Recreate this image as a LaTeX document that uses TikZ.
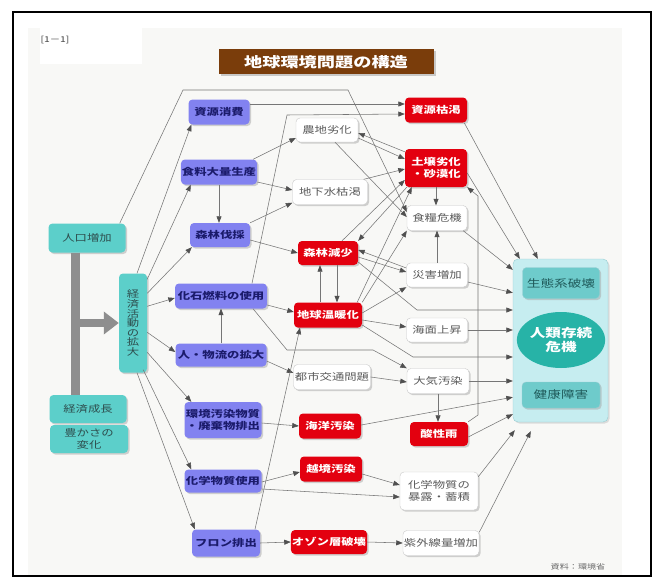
\documentclass[tikz,border=0pt]{standalone}
\usepackage{fontspec}
\newfontfamily\jp[FakeStretch=1.3]{Noto Sans CJK JP}
\usetikzlibrary{arrows.meta, positioning, shapes.geometric, shadows}
\definecolor{actblue}{HTML}{8282F0}
\definecolor{actink}{HTML}{1B1B6B}
\definecolor{hazard}{HTML}{E3000F}
\definecolor{seed}{HTML}{5CCFCA}
\definecolor{seedink}{HTML}{2E4E4E}
\definecolor{effline}{HTML}{C9C9C9}
\definecolor{effink}{HTML}{5A5A5A}
\definecolor{pool}{HTML}{C6EDF0}
\definecolor{poolline}{HTML}{98CDD2}
\definecolor{lagoon}{HTML}{6ECBCB}
\definecolor{lagoonink}{HTML}{1F5A5A}
\definecolor{core}{HTML}{27B3A7}
\definecolor{wire}{HTML}{767676}
\definecolor{tip}{HTML}{505050}
\definecolor{cocoa}{HTML}{7A3D0B}
\definecolor{paper}{HTML}{F8F8F6}
\definecolor{trunkgray}{HTML}{8E8E8E}
\tikzstyle{chart}=[x=1pt, y=-1pt, on grid, >={Triangle[length=6.5pt,width=5pt,color=tip]}]
\tikzstyle{box}=[rounded corners=4pt, minimum width=62pt, minimum height=25pt, inner sep=1pt, align=center,
  font=\jp\fontsize{9.5}{11.5}\selectfont,
  drop shadow={shadow xshift=1.6pt, shadow yshift=-1.6pt, fill=black!35, opacity=.5}]
\tikzstyle{act}=[box, fill=actblue, text=actink, font=\jp\bfseries\fontsize{9.5}{11.5}\selectfont]
\tikzstyle{hit}=[box, fill=hazard, text=white, font=\jp\bfseries\fontsize{9.5}{11.5}\selectfont]
\tikzstyle{effect}=[box, fill=white, draw=effline, text=effink]
\tikzstyle{cause}=[box, fill=seed, text=seedink]
\tikzstyle{flow}=[draw=wire, line width=.55pt, ->]

\begin{document}
\begin{tikzpicture}[chart]
  \useasboundingbox (0,0) rectangle (656,578);
  \fill[paper] (28,28) rectangle (622,575);
  \fill[white] (40,28) rectangle (142,64);
  \draw[line width=1.3pt] (13,12) rectangle (651,576);
  \node[anchor=west, text=black!75, font=\jp\fontsize{8}{9}\selectfont] (tag) at (37,40) {[1－1]};
  \node[fill=cocoa, text=white, minimum width=215pt, minimum height=25pt, inner sep=0pt,
        font=\jp\bfseries\fontsize{14}{16}\selectfont,
        drop shadow={shadow xshift=2pt, shadow yshift=-2pt, fill=black!40, opacity=.5}] (title) at (326,62) {地球環境問題の構造};

  % what drives it
  \node[cause, minimum width=77pt, minimum height=29pt] (pop) at (87,238) {人口増加};
  \node[cause, minimum width=28pt, minimum height=99pt, font=\jp\fontsize{9.5}{9.6}\selectfont] (econ) [below right=85pt and 46pt of pop] {経\\済\\活\\動\\の\\拡\\大};
  \node[cause, minimum width=77pt, minimum height=28pt] (growth) [below right=171pt and 1pt of pop] {経済成長};
  \node[cause, minimum width=78pt, minimum height=28pt] (rich) [below right=30pt and 1pt of growth] {豊かさの\\変化};

  % human activity
  \node[act, minimum width=61pt] (res) at (219,112) {資源消費};
  \node[act, minimum width=75pt] (food) [below=60pt of res] {食料大量生産};
  \node[act, minimum width=60pt, minimum height=24pt] (cut) [below right=63pt and 1pt of food] {森林伐採};
  \node[act, minimum width=92pt] (fossil) [below right=61pt and 1pt of cut] {化石燃料の使用};
  \node[act, minimum width=91pt, minimum height=23pt] (move) [below=59pt of fossil] {人・物流の拡大};
  \node[act, minimum width=77pt, minimum height=36pt] (emit) [below right=65pt and 2pt of move] {環境汚染物質\\・廃棄物排出};
  \node[act, minimum width=77pt, minimum height=23pt] (chem) [below=61pt of emit] {化学物質使用};
  \node[act, minimum width=68pt, minimum height=27pt] (cfc) [below right=62pt and 3pt of chem] {フロン排出};

  % problems
  \node[hit] (deplete) at (436,110) {資源枯渇};
  \node[hit, minimum height=38pt] (soil) [below=58pt of deplete] {土壌劣化\\・砂漠化};
  \node[effect, minimum width=60pt] (crisis) [below right=50pt and 1pt of soil] {食糧危機};
  \node[effect, minimum width=61pt, minimum height=24pt] (disaster) [below=57pt of crisis] {災害増加};
  \node[effect, minimum width=61pt, minimum height=24pt] (sea) [below=55pt of disaster] {海面上昇};
  \node[effect] (air) [below right=51pt and 1pt of sea] {大気汚染};
  \node[hit, minimum width=58pt, minimum height=24pt] (acid) [below right=53pt and 1pt of air] {酸性雨};
  \node[effect, minimum width=78pt, minimum height=38pt] (expo) [below=57pt of acid] {化学物質の\\暴露・蓄積};
  \node[effect, minimum width=75pt] (uv) [below right=52pt and 2pt of expo] {紫外線量増加};

  \node[effect, minimum height=24pt] (farm) at (327,130) {農地劣化};
  \node[effect, minimum width=75pt] (ground) [below right=62pt and 3pt of farm] {地下水枯渇};
  \node[hit, minimum width=60pt, minimum height=24pt] (forest) [below left=61pt and 2pt of ground] {森林減少};
  \node[hit, minimum width=68pt] (warm) [below=62pt of forest] {地球温暖化};
  \node[effect, minimum width=77pt] (traffic) [below right=62pt and 4pt of warm] {都市交通問題};
  \node[hit] (ocean) [below left=49pt and 2pt of traffic] {海洋汚染};
  \node[hit] (cross) [below right=43pt and 1pt of ocean] {越境汚染};
  \node[hit, minimum width=76pt, minimum height=24pt] (ozone) [below left=73pt and 2pt of cross] {オゾン層破壊};

  % outcome
  \node[draw=poolline, fill=pool, rounded corners=5pt, minimum width=95pt, minimum height=163pt,
        drop shadow={shadow xshift=1.6pt, shadow yshift=-1.6pt, fill=black!25, opacity=.5}] (panel) at (560.5,340.5) {};
  \node[ellipse, fill=core, text=white, minimum width=82pt, minimum height=56pt, inner sep=0pt, align=center,
        font=\jp\bfseries\fontsize{12}{14}\selectfont] (human) at (561,340) {人類存続\\危機};
  \node[box, fill=lagoon, draw=poolline, text=lagoonink, minimum width=77pt, minimum height=31pt,
        font=\jp\fontsize{10.5}{12}\selectfont] (eco) [above=57pt of human] {生態系破壊};
  \node[box, fill=lagoon, draw=poolline, text=lagoonink, minimum width=78pt, minimum height=26pt,
        font=\jp\fontsize{10.5}{12}\selectfont] (health) [below=55pt of human] {健康障害};

  \node[text=black!60, font=\jp\fontsize{7}{8}\selectfont] (src) at (578,567) {資料：環境省};

  % bends
  \coordinate (ridgeL) at (183,90);
  \coordinate (ridgeR) at (348,90);
  \coordinate (fuelbend) at (287,115);
  \coordinate (airL) at (287,350);
  \coordinate (airR) at (373,350);
  \coordinate (heatbend) at (413,357);
  \coordinate (lossbend) at (417,310);
  \coordinate (rainlow) at (478,415);
  \coordinate (rainhigh) at (478,196);
  \coordinate (trunk) at ([xshift=-12pt]pop.south);

  % thick grey feed into the economy
  \draw[trunkgray, line width=9pt] (trunk) -- (trunk |- growth.north);
  \draw[trunkgray, line width=8pt, -{Triangle[length=15pt,width=22pt]}] (trunk |- econ.west) -- (econ.west);

  % left fan
  \draw[flow] ([xshift=-6pt]pop.north east) -- (ridgeL) -- (ridgeR) -- ([yshift=6pt]crisis.west);
  \path ([xshift=4pt]econ.north) edge[flow] ([xshift=3pt]res.south west)
        ([yshift=-6pt]econ.north east) edge[flow] ([xshift=10pt]food.south west)
        ([yshift=-20pt]econ.north east) edge[flow] ([xshift=2pt]cut.south west)
        ([yshift=-33pt]econ.north east) edge[flow] ([yshift=-2pt]fossil.west)
        ([yshift=-59pt]econ.north east) edge[flow] ([yshift=3pt]move.west)
        ([yshift=-79pt]econ.north east) edge[flow] ([xshift=7pt]emit.north west)
        ([xshift=-4pt,yshift=3pt]econ.south east) edge[flow] ([xshift=7pt]chem.north west)
        ([xshift=4pt]econ.south) edge[flow] ([xshift=3pt]cfc.north west);

  % middle
  \path ([yshift=8pt]res.east) edge[flow] ([yshift=6pt]deplete.west);
  \draw[flow] ([xshift=31pt]fossil.north) -- (fuelbend) -- ([yshift=-4pt]deplete.west);
  \draw[flow] ([xshift=32pt]fossil.south) -- (airL) -- (airR) -- (air.north west);
  \path ([xshift=-4pt]food.north east) edge[flow] ([yshift=-8pt]farm.west)
        ([yshift=-10pt]food.east) edge[flow] ([yshift=2pt]ground.west)
        (food.south) edge[flow] (food.south |- cut.north)
        (cut.north east) edge[flow] ([yshift=2pt]ground.south west)
        ([yshift=-5pt]cut.east) edge[flow] (forest.west)
        ([yshift=-9pt]fossil.east) edge[flow] ([yshift=3pt]warm.west)
        (move.north) edge[flow] (move.north |- fossil.south)
        ([yshift=-6pt]move.east) edge[flow] ([yshift=4pt]traffic.west)
        (traffic.east) edge[flow] ([yshift=-1pt]air.west)
        (air.south) edge[flow] (air.south |- acid.north)
        ([yshift=-3pt]emit.east) edge[flow] (ocean.west)
        ([yshift=-1pt]chem.east) edge[flow] ([yshift=-3pt]cross.west)
        ([yshift=-8pt]chem.east) edge[flow] ([yshift=-6pt]expo.west)
        ([yshift=-5pt]cross.east) edge[flow] ([yshift=6pt]expo.west)
        (cfc.east) edge[flow] (ozone.west)
        (ozone.east) edge[flow] (uv.west)
        ([xshift=29pt]cfc.north) edge[flow] ([xshift=-28pt]warm.south);

  % right side
  \path ([yshift=-8pt]farm.east) edge[flow] ([yshift=9pt]soil.west)
        ([yshift=-3pt]soil.north west) edge[flow] ([yshift=-3pt]farm.east)
        ([xshift=8pt]farm.south) edge[flow] ([yshift=1pt]crisis.west)
        ([xshift=-4pt]ground.north east) edge[flow] ([yshift=-1pt]soil.west)
        ([xshift=14pt]forest.north) edge[flow] ([yshift=-12pt]soil.west)
        ([xshift=2pt]soil.south west) edge[flow] (forest.north east)
        ([xshift=-5pt]warm.north east) edge[flow] ([xshift=7pt]soil.south west)
        (warm.north east) edge[flow] (crisis.south west)
        ([yshift=2pt]warm.east) edge[flow] (disaster.south west)
        ([yshift=-5pt]warm.east) edge[flow] ([yshift=3pt]sea.west)
        ([yshift=-4pt]forest.east) edge[flow] ([yshift=3pt]disaster.west)
        ([yshift=7pt]disaster.west) edge[flow] ([yshift=3pt]forest.east)
        ([xshift=-8pt]warm.north) edge[flow] ([xshift=-8pt]forest.south)
        ([xshift=9pt]forest.south) edge[flow] ([xshift=9pt]warm.north)
        (disaster.north) edge[flow] (crisis.south)
        (soil.south) edge[flow] (soil.south |- crisis.north);
  \draw[flow] (acid.north east) -- (rainlow) -- (rainhigh) -- (soil.south east);

  % into the outcome panel
  \path ([xshift=-3pt]deplete.south east) edge[flow] ([xshift=25pt]panel.north west)
        ([yshift=-5pt]soil.east) edge[flow] ([xshift=7pt]panel.north west)
        ([xshift=-4pt]crisis.south east) edge[flow] ([yshift=-11pt]panel.north west)
        ([yshift=-7pt]disaster.east) edge[flow] ([yshift=-34pt]panel.north west)
        (sea.east) edge[flow] (sea.east -| panel.west)
        (air.east) edge[flow] (air.east -| panel.west)
        ([yshift=1pt]ocean.east) edge[flow] ([yshift=25pt]panel.south west)
        ([yshift=-3pt]acid.east) edge[flow] ([yshift=8pt]panel.south west)
        ([yshift=-5pt]expo.north east) edge[flow] ([xshift=2pt,yshift=-8pt]panel.south west)
        ([yshift=-2pt]uv.north east) edge[flow] ([xshift=18pt,yshift=-9pt]panel.south west);
  \draw[flow] ([yshift=-9pt]forest.east) -- (lossbend) -- (lossbend -| panel.west);
  \draw[flow] ([yshift=-10pt]warm.east) -- (heatbend) -- (heatbend -| panel.west);
\end{tikzpicture}
\end{document}
